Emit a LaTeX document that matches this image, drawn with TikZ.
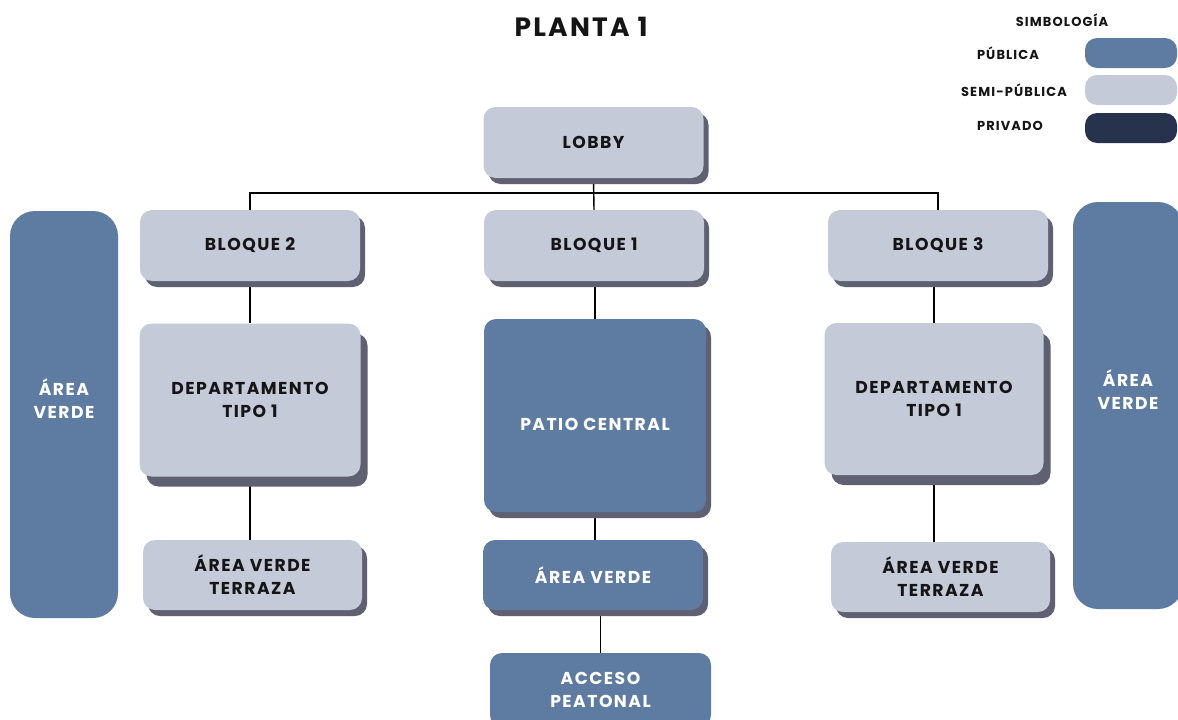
\documentclass[tikz,border=0pt]{standalone}
\usepackage{fontspec}
\setmainfont{Poppins}[LetterSpace=8.5]
\usetikzlibrary{shadows,backgrounds}
\definecolor{publica}{HTML}{5E7BA1}
\definecolor{semipublica}{HTML}{C4CAD8}
\definecolor{privado}{HTML}{27324D}
\definecolor{sombra}{HTML}{5F6072}
\definecolor{tinta}{HTML}{151515}

\begin{document}
\begin{tikzpicture}[x=1pt, y=-1pt,
  caja/.style={rounded corners=12pt, align=center, inner sep=0pt,
    font=\bfseries\fontsize{17.2}{23}\selectfont},
  semi/.style={caja, fill=semipublica, text=tinta},
  publ/.style={caja, fill=publica, text=white},
  sombreada/.style={drop shadow={shadow xshift=5pt, shadow yshift=-6pt, fill=sombra, opacity=1}},
  sombragrande/.style={drop shadow={shadow xshift=7pt, shadow yshift=-10pt, fill=sombra, opacity=1}},
  linea/.style={line width=1.4pt, draw=black},
  leyenda/.style={font=\bfseries\fontsize{13}{15}\selectfont, text=tinta}
]
\clip (0,0) rectangle (1178,720);

%% titulo y simbologia
\node[font=\bfseries\fontsize{26.5}{30}\selectfont, text=tinta] (titulo) at (581,27) {PLANTA 1};
\node[leyenda] (simb) at (1062,20) {SIMBOLOGÍA};
\node[leyenda] (lpub) at (1008,53) {PÚBLICA};
\node[leyenda] (lsemi) at (1014,90) {SEMI-PÚBLICA};
\node[leyenda] (lpriv) at (1010,126) {PRIVADO};
\node[caja, fill=publica, minimum width=92pt, minimum height=30pt] (spub) at (1131,53) {};
\node[caja, fill=semipublica, minimum width=92pt, minimum height=30pt] (ssemi) at (1131,90) {};
\node[caja, fill=privado, minimum width=92pt, minimum height=30pt] (spriv) at (1131,128) {};

%% cajas
\node[semi, sombreada, minimum width=220pt, minimum height=71pt] (lobby) at (593.5,142.5) {LOBBY};
\node[semi, sombreada, minimum width=220pt, minimum height=71pt] (b2) at (250,245.5) {BLOQUE 2};
\node[semi, sombreada, minimum width=220pt, minimum height=71pt] (b1) at (594,245.5) {BLOQUE 1};
\node[semi, sombreada, minimum width=220pt, minimum height=71pt] (b3) at (938,245.5) {BLOQUE 3};

\node[semi, sombragrande, minimum width=221pt, minimum height=153pt] (depto2) at (250,400) {DEPARTAMENTO\\TIPO 1};
\node[publ, sombreada, minimum width=222pt, minimum height=193pt,
  label={[caja, text=white, yshift=-9pt]center:PATIO CENTRAL}] (patio) at (595,415.5) {};
\node[semi, sombragrande, minimum width=219pt, minimum height=152pt] (depto3) at (934,399) {DEPARTAMENTO\\TIPO 1};

\node[semi, sombreada, minimum width=219pt, minimum height=70pt] (terr2) at (252.5,575) {ÁREA VERDE\\TERRAZA};
\node[publ, sombreada, minimum width=220pt, minimum height=70pt] (verdec) at (593,575) {ÁREA VERDE};
\node[semi, sombreada, minimum width=219pt, minimum height=70pt] (terr3) at (940.5,577) {ÁREA VERDE\\TERRAZA};
\node[publ, minimum width=221pt, minimum height=74pt] (acceso) at (600.5,690) {ACCESO\\PEATONAL};

\node[publ, rounded corners=25pt, minimum width=108pt, minimum height=407pt,
  label={[caja, text=white, yshift=16pt]center:{ÁREA\\VERDE}}] (verdeizq) at (64,414.5) {};
\node[publ, rounded corners=25pt, minimum width=110pt, minimum height=407pt,
  label={[caja, text=white, yshift=16pt]center:{ÁREA\\VERDE}}] (verdeder) at (1128,405.5) {};

%% conexiones
\begin{scope}[on background layer]
\fill[white] (0,0) rectangle (1178,720);
\draw[linea] (lobby.south) -- (b1.north);
\draw[linea] (b2.north) -- ++(0,-17) -| (b3.north);
\draw[linea] (b2.south) -- (depto2.north);
\draw[linea] (patio.north |- b1.south) -- (patio.north);
\draw[linea] (depto3.north |- b3.south) -- (depto3.north);
\draw[linea] (depto2.south) -- (terr2.north -| depto2.south);
\draw[linea] (patio.south) -- (verdec.north -| patio.south);
\draw[linea] (depto3.south) -- (terr3.north -| depto3.south);
\draw[linea] (acceso.north) -- (acceso.north |- verdec.south);
\end{scope}
\end{tikzpicture}
\end{document}
